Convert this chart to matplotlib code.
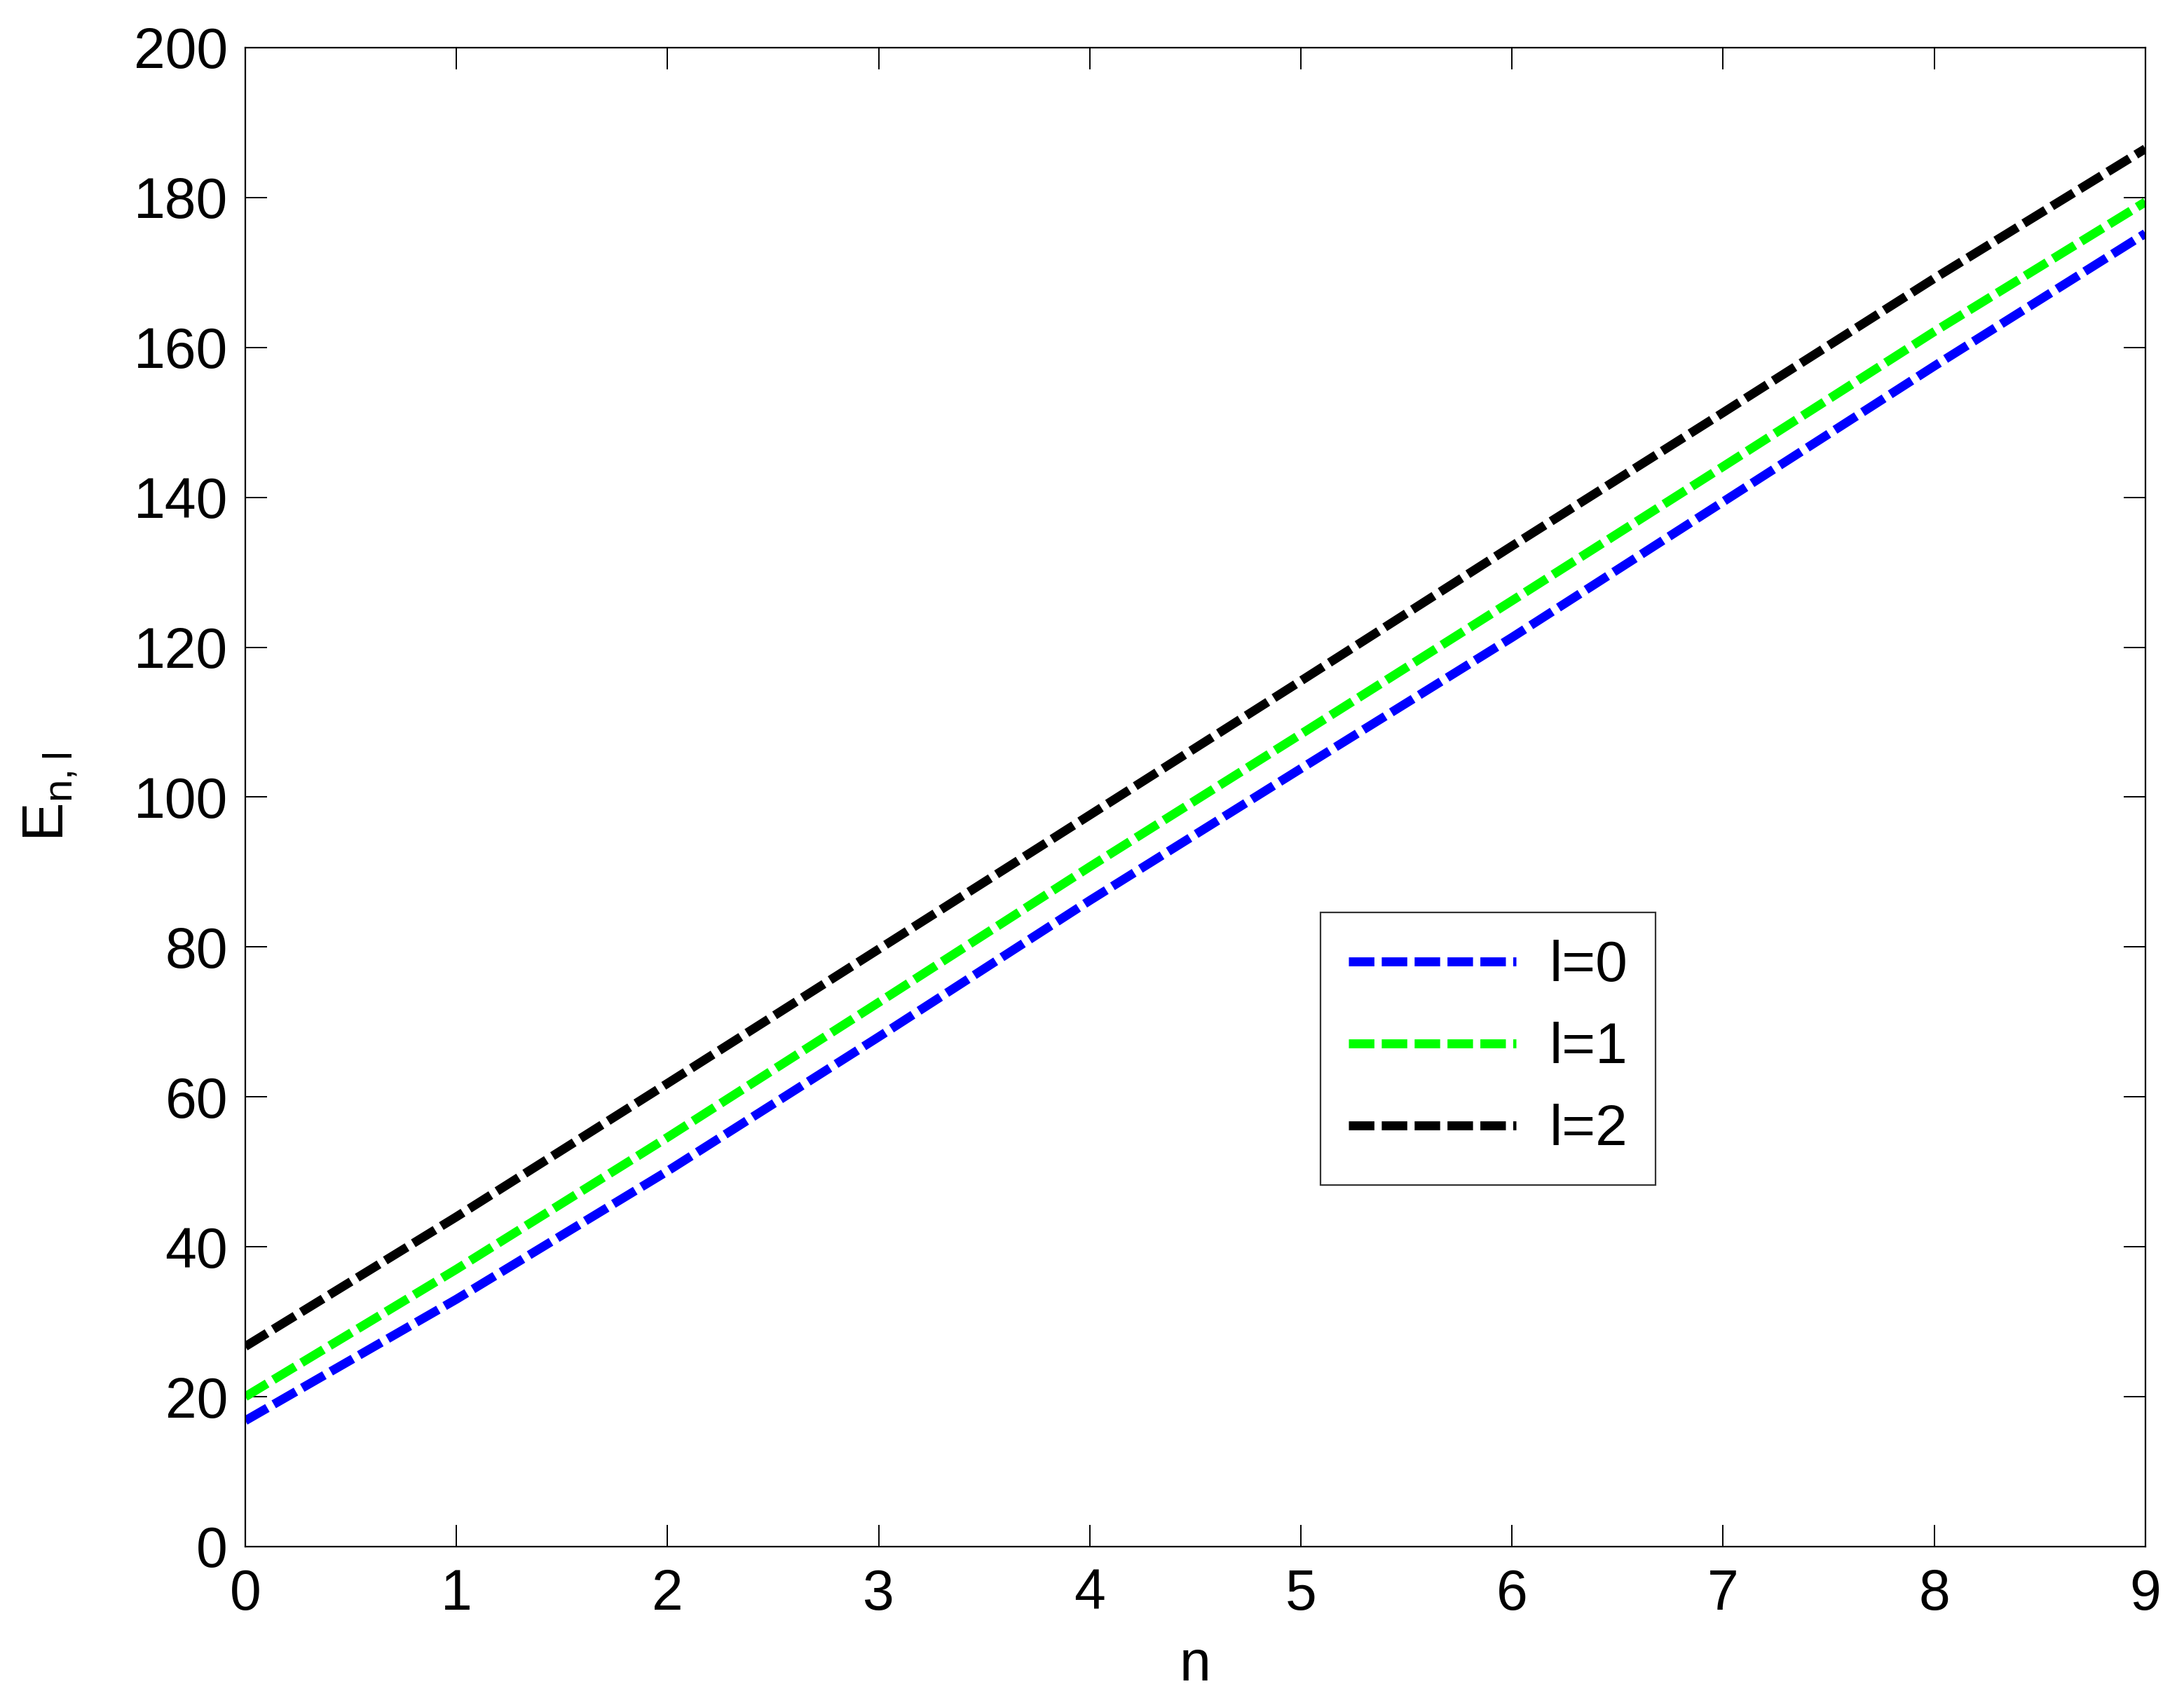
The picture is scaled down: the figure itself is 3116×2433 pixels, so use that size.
import matplotlib
matplotlib.use("Agg")
import matplotlib.pyplot as plt
import numpy as np

n_vals = [0, 1, 2, 3, 4, 5, 6, 7, 8, 9]
E_l0 = [16.8, 33.0, 50.1, 68.0, 86.2, 103.8, 121.3, 139.4, 157.5, 175.2]
E_l1 = [20.0, 37.0, 54.6, 72.6, 90.7, 108.4, 126.2, 144.1, 162.1, 179.4]
E_l2 = [26.7, 44.0, 61.8, 79.7, 97.6, 115.5, 133.5, 151.3, 169.2, 186.5]
labels = ["l=0", "l=1", "l=2"]
colors = ["#0000ff", "#00ff00", "#000000"]
xticks = list(range(0, 10))
yticks = list(range(0, 201, 20))

plt.rcParams['font.family'] = ['Liberation Sans', 'DejaVu Sans']
plt.rcParams['mathtext.default'] = 'regular'

fig = plt.figure(figsize=(15.58, 12.165), dpi=200)
ax = fig.add_axes([0.1123, 0.0929, 0.8700, 0.8792])

for y, lab, c in zip([E_l0, E_l1, E_l2], labels, colors):
    ax.plot(n_vals, y, color=c, lw=4.6, dashes=(2.85, 0.82), label=lab)

ax.set_xlim(0, 9)
ax.set_ylim(0, 200)
ax.set_xticks(xticks)
ax.set_yticks(yticks)
ax.tick_params(direction='in', top=True, right=True, length=11, width=0.7,
               labelsize=29)
ax.tick_params(axis='x', pad=11)
ax.tick_params(axis='y', pad=9)
for s in ax.spines.values():
    s.set_linewidth(0.8)

ax.set_xlabel("n", fontsize=29, labelpad=9)
ax.set_ylabel(r"E$_{n,l}$", fontsize=30, labelpad=28)

leg = ax.legend(loc='upper left', bbox_to_anchor=(0.566, 0.423),
                borderaxespad=0, fontsize=29.5, fancybox=False, frameon=True,
                edgecolor='black', handlelength=2.92, handletextpad=0.58,
                labelspacing=0.5, borderpad=0.48)
leg.get_frame().set_linewidth(0.8)

fig.savefig("out.png", dpi=200, facecolor='white')
